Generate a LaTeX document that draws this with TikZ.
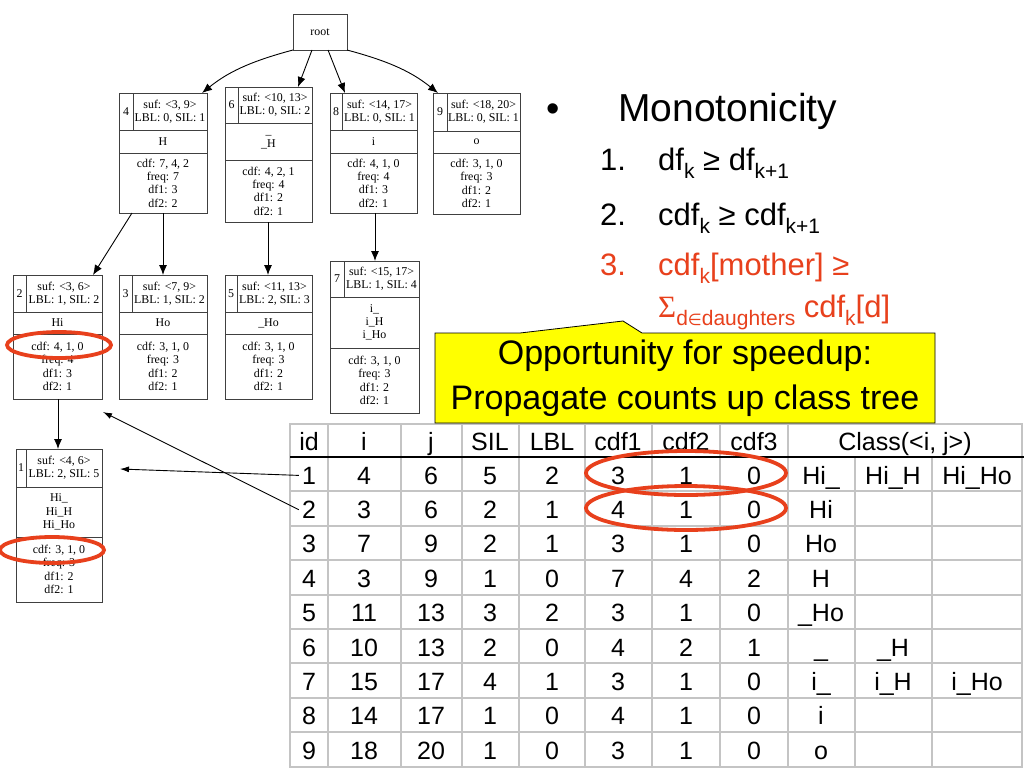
\documentclass[tikz,border=0pt]{standalone}
\usepackage{fontspec}
\setmainfont{Liberation Sans}
\newfontfamily\serfont{Liberation Serif}
\newfontfamily\djv{DejaVu Sans}
\usetikzlibrary{arrows.meta,calc}
\definecolor{ored}{RGB}{232,64,28}
\definecolor{gridg}{RGB}{196,196,196}
\definecolor{cyellow}{RGB}{255,255,0}
\tikzset{
  recbox/.style={draw=black!75, line width=0.9pt, inner sep=0pt, outer sep=0pt},
  recline/.style={draw=black!75, line width=0.9pt},
  rectxt/.style={font=\serfont\fontsize{11.9}{13.3}\selectfont, align=center, inner sep=0pt},
  treearr/.style={draw=black, line width=0.9pt, -{Latex[length=10pt,width=8pt]}},
  tabarr/.style={draw=black, line width=0.9pt, -{Latex[length=9pt,width=6pt]}},
  gridline/.style={draw=gridg, line width=2pt},
  tcell/.style={font=\fontsize{25}{30}\selectfont, anchor=base, inner sep=0pt},
  item/.style={font=\fontsize{31}{36}\selectfont, anchor=base west, inner sep=0pt},
  ring/.style={draw=ored, line width=3.8pt},
}
\newcommand\sbs[1]{\raisebox{-0.26em}{\fontsize{21}{21}\selectfont #1}}
% record node: name, x, y, width, h1, h2, h3, id-width, id
\newcommand\rec[9]{%
  \pgfmathsetmacro\rh{#5+#6+#7}%
  \node[recbox, minimum width=#4pt, minimum height=\rh pt, anchor=north west] (#1) at (#2,#3) {};%
  \draw[recline] ($(#1.north west)+(0,#5)$) -- ($(#1.north east)+(0,#5)$);%
  \draw[recline] ($(#1.north west)+(0,#5+#6)$) -- ($(#1.north east)+(0,#5+#6)$);%
  \draw[recline] ($(#1.north west)+(#8,0)$) -- ($(#1.north west)+(#8,#5)$);%
  \coordinate (#1-id) at ($(#1.north west)+(#8/2,#5/2)$);%
  \coordinate (#1-suf) at ($(#1.north west)+({(#4+#8)/2},#5/2)$);%
  \coordinate (#1-nm) at ($(#1.north west)+(#4/2,#5+#6/2)$);%
  \coordinate (#1-st) at ($(#1.north west)+(#4/2,#5+#6+#7/2)$);%
  \node[rectxt] (#1-idt) at (#1-id) {#9};%
}
\newcommand\rtxt[5]{%
  \node[rectxt] (#1-suft) at (#1-suf) {#2\\#3};%
  \node[rectxt] (#1-nmt) at (#1-nm) {#4};%
  \node[rectxt] (#1-stt) at (#1-st) {#5};%
}
% table row: row, i, j, SIL, LBL, cdf1, cdf2, cdf3
\newcommand\trow[8]{%
  \pgfmathsetmacro\ty{457+34.4*(#1-1)+27}%
  \node[tcell] (t#1id) at (309,\ty) {#1};%
  \node[tcell] (t#1i) at (364,\ty) {#2};%
  \node[tcell] (t#1j) at (431,\ty) {#3};%
  \node[tcell] (t#1s) at (490,\ty) {#4};%
  \node[tcell] (t#1l) at (552,\ty) {#5};%
  \node[tcell] (t#1c1) at (618,\ty) {#6};%
  \node[tcell] (t#1c2) at (686,\ty) {#7};%
  \node[tcell] (t#1c3) at (754,\ty) {#8};%
}
\newcommand\tcls[4]{%
  \pgfmathsetmacro\ty{457+34.4*(#1-1)+27}%
  \node[tcell] (t#1x) at (821,\ty) {#2};%
  \node[tcell] (t#1y) at (893,\ty) {#3};%
  \node[tcell] (t#1z) at (977,\ty) {#4};%
}
\begin{document}
\begin{tikzpicture}[x=1pt,y=-1pt]
\fill[white] (0,0) rectangle (1024,768);
\useasboundingbox (0,0) rectangle (1024,768);

% ---------- tree ----------
\node[recbox, rectxt, draw=black!75, line width=0.9pt, minimum width=54pt, minimum height=36pt] (root) at (320,32) {root};

\rec{n4}{119}{93}{88}{37}{23}{60}{14}{4}
\rtxt{n4}{suf: <3, 9>}{LBL: 0, SIL: 1}{H}{cdf: 7, 4, 2\\freq: 7\\df1: 3\\df2: 2}
\rec{n6}{225}{87}{87}{36}{37}{62}{13}{6}
\rtxt{n6}{suf: <10, 13>}{LBL: 0, SIL: 2}{\_\\\_H}{cdf: 4, 2, 1\\freq: 4\\df1: 2\\df2: 1}
\rec{n8}{330}{93}{87}{37}{23}{60}{12}{8}
\rtxt{n8}{suf: <14, 17>}{LBL: 0, SIL: 1}{i}{cdf: 4, 1, 0\\freq: 4\\df1: 3\\df2: 1}
\rec{n9}{433}{93}{87}{38}{22}{61}{14}{9}
\rtxt{n9}{suf: <18, 20>}{LBL: 0, SIL: 1}{o}{cdf: 3, 1, 0\\freq: 3\\df1: 2\\df2: 1}

\rec{n2}{13}{275}{89}{37}{22}{65}{13}{2}
\rtxt{n2}{suf: <3, 6>}{LBL: 1, SIL: 2}{Hi}{cdf: 4, 1, 0\\freq: 4\\df1: 3\\df2: 1}
\rec{n3}{119}{275}{88}{37}{22}{65}{13}{3}
\rtxt{n3}{suf: <7, 9>}{LBL: 1, SIL: 2}{Ho}{cdf: 3, 1, 0\\freq: 3\\df1: 2\\df2: 1}
\rec{n5}{225}{275}{87}{37}{22}{65}{12}{5}
\rtxt{n5}{suf: <11, 13>}{LBL: 2, SIL: 3}{\_Ho}{cdf: 3, 1, 0\\freq: 3\\df1: 2\\df2: 1}
\rec{n7}{330}{261}{89}{36}{51}{65}{14}{7}
\rtxt{n7}{suf: <15, 17>}{LBL: 1, SIL: 4}{i\_\\i\_H\\i\_Ho}{cdf: 3, 1, 0\\freq: 3\\df1: 2\\df2: 1}

\rec{n1}{16}{449}{86}{38}{50}{65}{10}{1}
\rtxt{n1}{suf: <4, 6>}{LBL: 2, SIL: 5}{Hi\_\\Hi\_H\\Hi\_Ho}{cdf: 3, 1, 0\\freq: 3\\df1: 2\\df2: 1}

% tree connectors
\draw[treearr] (root.south west) .. controls +(-45,12) and +(25,-20) .. ([xshift=-5pt]n4.north east);
\draw[treearr] ([xshift=19pt]root.south west) -- ([xshift=73pt]n6.north west);
\draw[treearr] ([xshift=35pt]root.south west) -- ([xshift=15pt]n8.north west);
\draw[treearr] (root.south east) .. controls +(45,12) and +(-25,-20) .. ([xshift=5pt]n9.north west);
\draw[treearr] ([xshift=13pt]n4.south west) -- ([xshift=80pt]n2.north west);
\draw[treearr] ([xshift=44pt]n4.south west) -- ([xshift=44pt]n3.north west);
\draw[treearr] ([xshift=43pt]n6.south west) -- ([xshift=43pt]n5.north west);
\draw[treearr] ([xshift=45pt]n8.south west) -- ([xshift=45pt]n7.north west);
\draw[treearr] ([xshift=45pt]n2.south west) -- ([xshift=42pt]n1.north west);

% tree rings
\draw[ring] (59,345) ellipse [x radius=52pt, y radius=13pt];
\draw[ring] (52,550) ellipse [x radius=52pt, y radius=13pt];

% ---------- table grid ----------
\foreach \x in {328,401,462,519,585,652,720,788}
  \draw[gridline] (\x,424) -- (\x,767);
\foreach \x in {855,932}
  \draw[gridline] (\x,457) -- (\x,767);
\foreach \k in {1,...,8}
  \draw[gridline] (290,457+34.4*\k) -- (1022,457+34.4*\k);
\draw[gridline] (290,424) rectangle (1022,767);
\draw[black, line width=2.6pt] (290,457) -- (1024,457);

% ---------- callout ----------
\draw[fill=cyellow, draw=black, line width=0.8pt, line join=miter]
  (435,333) -- (520,333) -- (623,321) -- (642,333) -- (935,333) -- (935,423) -- (435,423) -- cycle;
\node[font=\fontsize{34}{45}\selectfont, align=center, inner sep=0pt] (callout) at (685,378)
  {Opportunity for speedup:\\Propagate counts up class tree};

% ---------- table text ----------
\node[tcell] (hid) at (309,450) {id};
\node[tcell] (hi) at (364,450) {i};
\node[tcell] (hj) at (431,450) {j};
\node[tcell] (hs) at (490,450) {SIL};
\node[tcell] (hl) at (552,450) {LBL};
\node[tcell] (hc1) at (618,450) {cdf1};
\node[tcell] (hc2) at (686,450) {cdf2};
\node[tcell] (hc3) at (754,450) {cdf3};
\node[tcell] (hcl) at (905,450) {Class(<i, j>)};

\trow{1}{4}{6}{5}{2}{3}{1}{0}
\trow{2}{3}{6}{2}{1}{4}{1}{0}
\trow{3}{7}{9}{2}{1}{3}{1}{0}
\trow{4}{3}{9}{1}{0}{7}{4}{2}
\trow{5}{11}{13}{3}{2}{3}{1}{0}
\trow{6}{10}{13}{2}{0}{4}{2}{1}
\trow{7}{15}{17}{4}{1}{3}{1}{0}
\trow{8}{14}{17}{1}{0}{4}{1}{0}
\trow{9}{18}{20}{1}{0}{3}{1}{0}

\tcls{1}{Hi\_}{Hi\_H}{Hi\_Ho}
\tcls{2}{Hi}{}{}
\tcls{3}{Ho}{}{}
\tcls{4}{H}{}{}
\tcls{5}{\_Ho}{}{}
\tcls{6}{\_}{\_H}{}
\tcls{7}{i\_}{i\_H}{i\_Ho}
\tcls{8}{i}{}{}
\tcls{9}{o}{}{}

% table rings
\draw[ring] (686,473) ellipse [x radius=100pt, y radius=22pt];
\draw[ring] (686,508) ellipse [x radius=100pt, y radius=22pt];

% table-to-tree arrows
\coordinate (a1) at (120,469);
\coordinate (a2) at (103,412);
\draw[tabarr] ([xshift=-3pt]t1id.west) -- (a1);
\draw[tabarr] ([xshift=-3pt]t2id.west) -- (a2);

% ---------- bullet list ----------
\node[font=\fontsize{38}{44}\selectfont, anchor=base west, inner sep=0pt] (bul) at (546,121) {•};
\node[font=\fontsize{39}{44}\selectfont, anchor=base west, inner sep=0pt] (mono) at (618,121) {Monotonicity};
\node[item] (l1) at (600,170) {1.};
\node[item] (e1) at (658,170) {df\sbs{k} ≥ df\sbs{k+1}};
\node[item] (l2) at (600,225) {2.};
\node[item] (e2) at (658,225) {cdf\sbs{k} ≥ cdf\sbs{k+1}};
\node[item, text=ored] (l3) at (600,275) {3.};
\node[item, text=ored] (e3) at (658,275) {cdf\sbs{k}[mother] ≥};
\node[item, text=ored] (e3b) at (658,317) {{\serfont Σ}\sbs{d{\djv\fontsize{16}{16}\selectfont ∈}daughters} cdf\sbs{k}[d]};
\end{tikzpicture}
\end{document}
